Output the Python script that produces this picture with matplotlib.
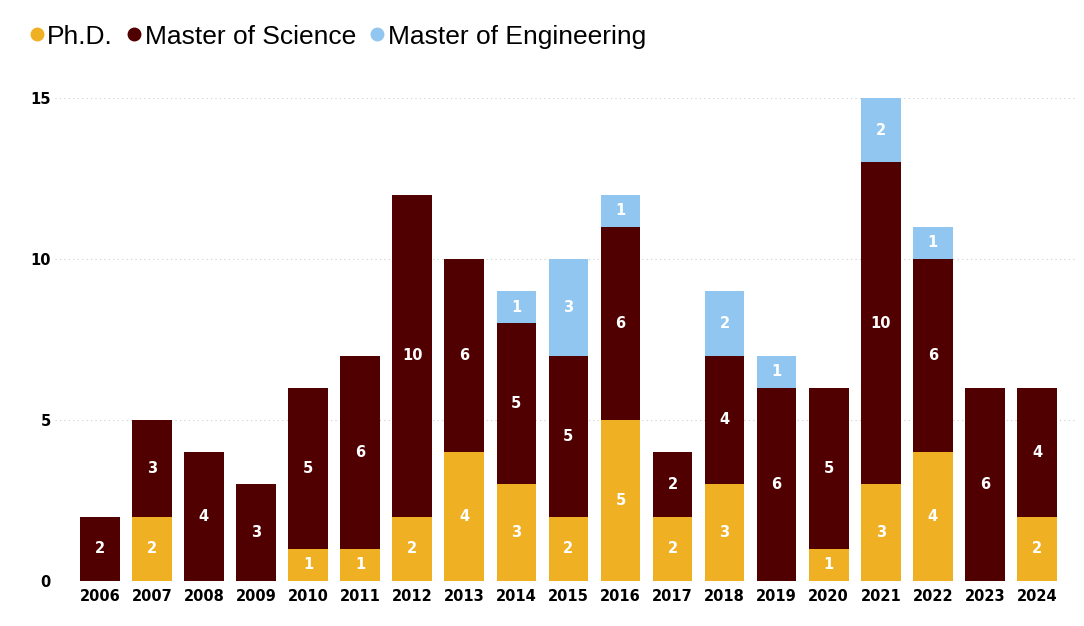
import matplotlib.pyplot as plt
from matplotlib.lines import Line2D
import numpy as np

years = ['2006', '2007', '2008', '2009', '2010', '2011', '2012', '2013', '2014', '2015',
         '2016', '2017', '2018', '2019', '2020', '2021', '2022', '2023', '2024']
phd = [0, 2, 0, 0, 1, 1, 2, 4, 3, 2, 5, 2, 3, 0, 1, 3, 4, 0, 2]
ms = [2, 3, 4, 3, 5, 6, 10, 6, 5, 5, 6, 2, 4, 6, 5, 10, 6, 6, 4]
meng = [0, 0, 0, 0, 0, 0, 0, 0, 1, 3, 1, 0, 2, 1, 0, 2, 1, 0, 0]

series = ['Ph.D.', 'Master of Science', 'Master of Engineering']
colores = ['#F0B023', '#500000', '#91C6F0']

plt.rcParams['font.family'] = ['Liberation Sans', 'DejaVu Sans']

fig = plt.figure(figsize=(10.84, 6.26), dpi=100)
ax = fig.add_axes([55 / 1084, 1 - 581 / 626, (1075 - 55) / 1084, 483 / 626])

x = np.arange(len(years))
base = np.zeros(len(years))
for nombre, valores, color in zip(series, [phd, ms, meng], colores):
    valores = np.array(valores)
    ax.bar(x, valores, width=0.76, bottom=base, color=color, label=nombre, zorder=2)
    # etiquetas dentro de cada segmento
    for xi, b, v in zip(x, base, valores):
        if v > 0:
            ax.text(xi, b + v / 2, str(v), ha='center', va='center', color='white',
                    fontsize=10.5, fontweight='bold', family='DejaVu Sans', zorder=3)
    base = base + valores

ax.set_xlim(-0.86, 18.73)
ax.set_ylim(0, 15)
ax.set_xticks(x)
ax.set_xticklabels(years, fontsize=10.5, fontweight='bold', family='DejaVu Sans')
ax.set_yticks([0, 5, 10, 15])
ax.set_yticklabels(['0', '5', '10', '15'], fontsize=10.5, fontweight='bold', family='DejaVu Sans')
ax.tick_params(length=0)
ax.tick_params(axis='x', pad=6)
ax.tick_params(axis='y', pad=3)
ax.grid(axis='y', linestyle=(0, (1, 3)), color='#cccccc', linewidth=0.8, zorder=0)
for s in ax.spines.values():
    s.set_visible(False)

handles = [Line2D([0], [0], marker='o', linestyle='', markersize=9, color=c) for c in colores]
fig.legend(handles, series, loc='upper left', bbox_to_anchor=(13 / 1084, 1 - 14 / 626),
           ncol=3, frameon=False, fontsize=19, handletextpad=-0.1, columnspacing=0.3,
           borderaxespad=0, handlelength=1.0)

fig.savefig('out.png', dpi=100)
